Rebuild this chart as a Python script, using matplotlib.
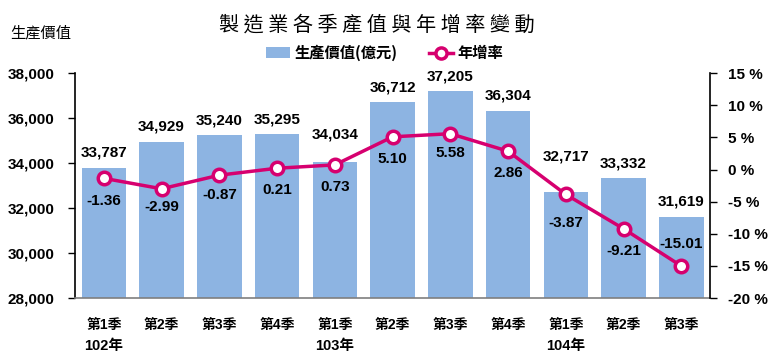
import matplotlib
matplotlib.use("Agg")
import matplotlib.pyplot as plt
from matplotlib.lines import Line2D
from matplotlib.patches import Patch

plt.rcParams['font.family'] = ['Liberation Sans', 'Noto Sans CJK TC', 'DejaVu Sans']

quarters = ["第1季", "第2季", "第3季", "第4季", "第1季", "第2季", "第3季", "第4季", "第1季", "第2季", "第3季"]
years = {0: "102年", 4: "103年", 8: "104年"}
output_value = [33787, 34929, 35240, 35295, 34034, 36712, 37205, 36304, 32717, 33332, 31619]
growth_rate = [-1.36, -2.99, -0.87, 0.21, 0.73, 5.10, 5.58, 2.86, -3.87, -9.21, -15.01]

# label offsets in pixels (moved by hand where they would hit the line)
bar_label_dy = [15, 16, 15, 15, 28, 15, 15, 16, 36, 15, 15]
rate_label_dy = [-23, -18, -20, -22, -22, -22, -19, -22, -29, -22, 22]

BAR_COLOR = "#8DB4E2"
LINE_COLOR = "#D6006F"
CJK = ["Noto Sans CJK TC", "DejaVu Sans"]

fig = plt.figure(figsize=(7.77, 3.57), dpi=100)
ax = fig.add_axes([0.0965, 0.165, 0.8175, 0.63])
x = list(range(len(quarters)))

ax.bar(x, output_value, width=0.77, color=BAR_COLOR, zorder=2)
ax.set_ylim(28000, 38000)
ax.set_xlim(-0.5, len(quarters) - 0.5)
ax.set_yticks(range(28000, 38001, 2000))
ax.set_yticklabels([f"{v:,}" for v in range(28000, 38001, 2000)], fontweight="bold", fontsize=11)
ax.set_xticks(x)
ax.set_xticklabels(quarters, fontweight="bold", fontsize=10)
ax.tick_params(axis="x", length=0, pad=14)
ax.tick_params(axis="y", length=5, width=1, direction="out", pad=10)
for s in ["top", "right"]:
    ax.spines[s].set_visible(False)
ax.spines["left"].set_linewidth(1.2)
ax.spines["bottom"].set_color("#7f7f7f")
ax.spines["bottom"].set_linewidth(1.2)

for i, v in enumerate(output_value):
    ax.annotate(f"{v:,}", (i, v), xytext=(0, bar_label_dy[i]), textcoords="offset pixels",
                ha="center", va="center", fontsize=11, fontweight="bold", zorder=5)

for i, label in years.items():
    ax.text(i, -0.215, label, transform=ax.get_xaxis_transform(), ha="center",
            va="center", fontsize=10.5, fontweight="bold")

ax2 = ax.twinx()
ax2.plot(x, growth_rate, color=LINE_COLOR, linewidth=2.5, marker="o", markersize=9,
         markerfacecolor="white", markeredgecolor=LINE_COLOR, markeredgewidth=2.5, zorder=4)
ax2.set_ylim(-20, 15)
ax2.set_yticks(range(-20, 16, 5))
ax2.set_yticklabels([f"{v} %" for v in range(-20, 16, 5)], fontweight="bold", fontsize=11)
ax2.tick_params(axis="y", length=5, width=1, direction="out", pad=8)
for s in ["top", "left", "bottom"]:
    ax2.spines[s].set_visible(False)
ax2.spines["right"].set_linewidth(1.2)

for i, g in enumerate(growth_rate):
    ax2.annotate(f"{g:.2f}", (i, g), xytext=(0, rate_label_dy[i]), textcoords="offset pixels",
                 ha="center", va="center", fontsize=11, fontweight="bold", zorder=5)

fig.text(0.485, 0.93, " ".join("製造業各季產值與年增率變動"), ha="center", va="center",
         fontsize=14.5, family=CJK, fontweight="light")
fig.text(0.013, 0.908, "生產價值", ha="left", va="center", fontsize=11, family=CJK)

handles = [Patch(facecolor=BAR_COLOR, edgecolor="none"),
           Line2D([0], [0], color=LINE_COLOR, linewidth=2.5, marker="o", markersize=8,
                  markerfacecolor="white", markeredgecolor=LINE_COLOR, markeredgewidth=2.5)]
fig.legend(handles, ["生產價值(億元)", "年增率"], loc="center", bbox_to_anchor=(0.495, 0.852),
           ncol=2, frameon=False, handlelength=1.6, columnspacing=2.0, handletextpad=0.3,
           prop={"family": CJK, "weight": "bold", "size": 11})

fig.savefig("out.png", dpi=100)
